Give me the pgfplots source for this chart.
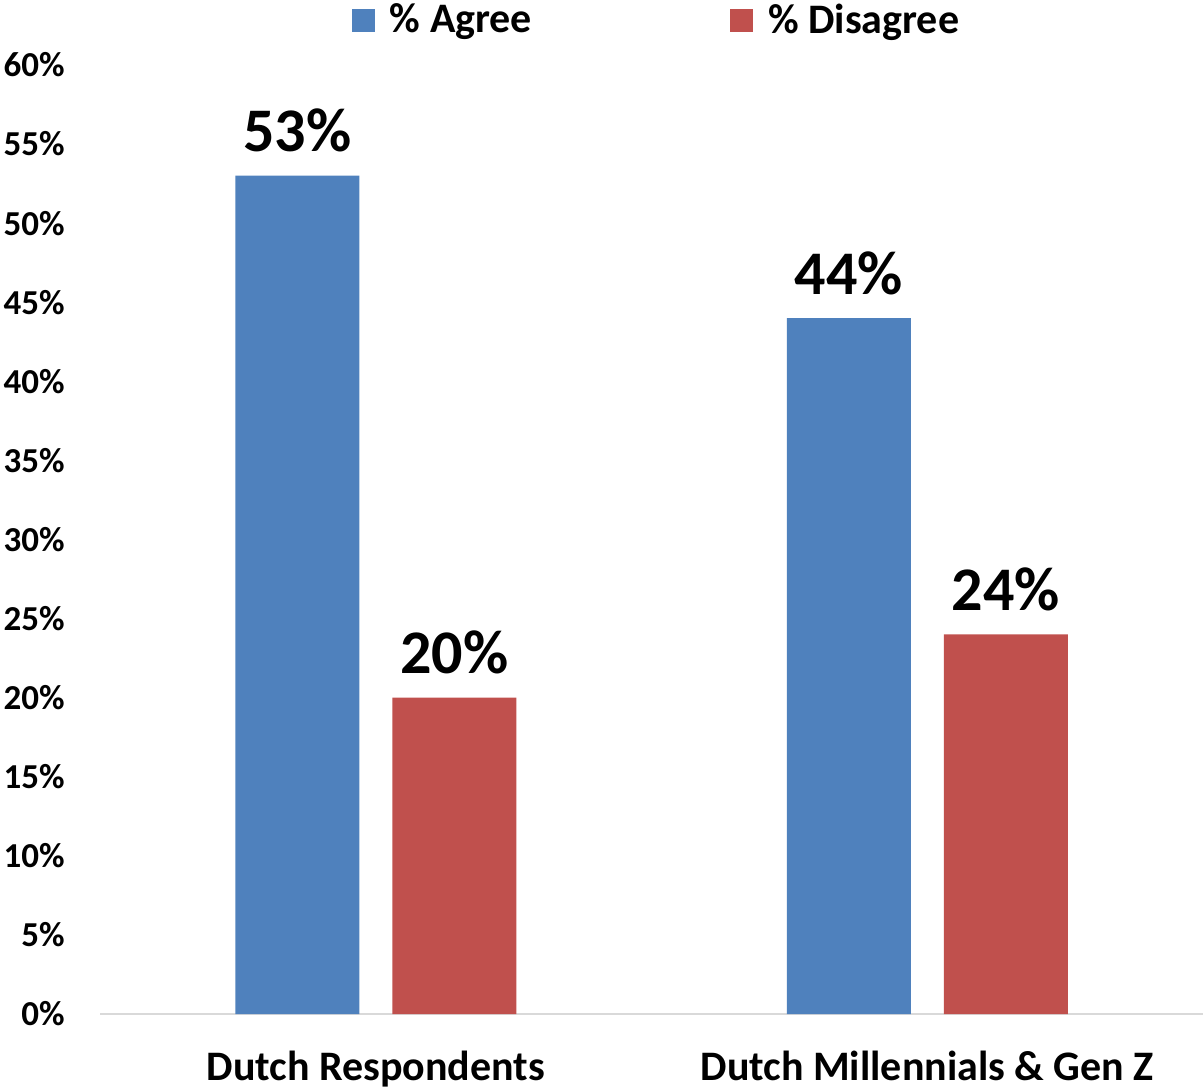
\documentclass[border=0pt]{standalone}
\usepackage{pgfplots}
\pgfplotsset{compat=1.18}
\usepackage{fontspec}
\setmainfont{Carlito}
\definecolor{agree}{HTML}{4F81BD}
\definecolor{disagree}{HTML}{C0504D}
\definecolor{axisgray}{HTML}{D9D9D9}
\begin{document}
\begin{tikzpicture}
\begin{axis}[
  scale only axis,
  width=551.5pt,
  height=474.5pt,
  ybar=16.5pt,
  bar width=62pt,
  xmin=-0.5, xmax=1.5,
  ymin=0, ymax=60,
  xtick=data,
  xticklabels={Dutch Respondents, Dutch Millennials \& Gen Z},
  ytick={0,5,...,60},
  yticklabel={\pgfmathprintnumber{\tick}\%},
  /pgf/number format/assume math mode=true,
  axis x line*=bottom,
  axis y line*=left,
  x axis line style={draw=axisgray, line width=1pt, -},
  y axis line style={draw=none},
  tick style={draw=none},
  yticklabel style={font=\fontsize{17.5}{20}\selectfont\bfseries, anchor=east, inner sep=0pt, xshift=-17.5pt},
  xticklabel style={font=\fontsize{21}{24}\selectfont\bfseries, anchor=base, inner sep=0pt, yshift=-29pt},
  nodes near coords={\pgfmathprintnumber{\pgfplotspointmeta}\%},
  every node near coord/.append style={font=\fontsize{31}{34}\selectfont\bfseries, anchor=base, inner sep=0pt, yshift=12pt},
  legend columns=2,
  legend style={at={(0.5055,1.0474)}, anchor=center, draw=none, fill=none,
    font=\fontsize{21}{24}\selectfont\bfseries, inner sep=0pt,
    /tikz/every odd column/.append style={column sep=5.5pt},
    /tikz/every even column/.append style={column sep=97pt}},
  legend image code/.code={\fill[#1, draw=none] (0pt,-5.75pt) rectangle (11.5pt,5.75pt);},
]
\addplot[fill=agree, draw=none] coordinates {(0,53) (1,44)};
\addlegendentry{\% Agree}
\addplot[fill=disagree, draw=none] coordinates {(0,20) (1,24)};
\addlegendentry{\% Disagree}
\end{axis}
\pgfresetboundingbox
\path[use as bounding box] ([xshift=-50pt,yshift=-38.5pt]current axis.south west) rectangle ([yshift=32.5pt]current axis.north east);
\end{tikzpicture}
\end{document}
